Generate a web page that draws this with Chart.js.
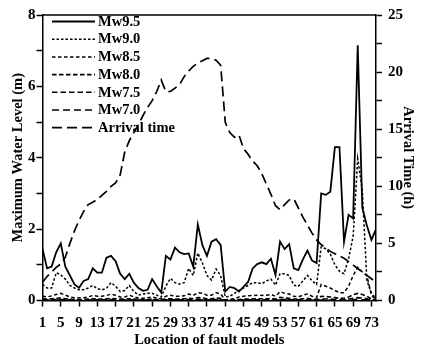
<!DOCTYPE html>
<html><head><meta charset="utf-8">
<script src="https://cdn.jsdelivr.net/npm/chart.js@4/dist/chart.umd.min.js"></script>
<style>html,body{margin:0;padding:0;background:#fff}canvas{display:block}</style>
</head><body>
<canvas id="c" width="422" height="354"></canvas>
<script>
const locations = [1,2,3,4,5,6,7,8,9,10,11,12,13,14,15,16,17,18,19,20,21,22,23,24,25,26,27,28,29,30,31,32,33,34,35,36,37,38,39,40,41,42,43,44,45,46,47,48,49,50,51,52,53,54,55,56,57,58,59,60,61,62,63,64,65,66,67,68,69,70,71,72,73,74];
const xTickLabels = [1,5,9,13,17,21,25,29,33,37,41,45,49,53,57,61,65,69,73];

const mw95 = [1.45,0.9,0.95,1.35,1.6,0.95,0.7,0.45,0.36,0.55,
  0.6,0.9,0.78,0.78,1.2,1.25,1.1,0.75,0.6,0.75,
  0.5,0.35,0.27,0.3,0.6,0.4,0.22,1.25,1.15,1.48,
  1.35,1.3,1.32,0.95,2.13,1.55,1.25,1.65,1.72,1.55,
  0.25,0.38,0.35,0.25,0.38,0.52,0.9,1.02,1.07,1.02,
  1.17,0.72,1.65,1.44,1.58,0.9,0.85,1.15,1.4,1.12,
  1.05,3.0,2.96,3.05,4.3,4.3,1.65,2.4,2.3,7.15,
  2.6,2.1,1.7,2.0];
const mw90 = [0.45,0.35,0.35,0.78,0.72,0.6,0.42,0.35,0.3,0.3,
  0.35,0.42,0.33,0.3,0.34,0.5,0.4,0.25,0.28,0.42,
  0.25,0.15,0.18,0.2,0.2,0.15,0.1,0.4,0.62,0.5,
  0.46,0.5,0.9,0.7,1.33,1.05,0.7,0.57,0.88,0.7,
  0.1,0.12,0.2,0.28,0.35,0.42,0.5,0.5,0.47,0.55,
  0.6,0.43,0.75,0.75,0.7,0.43,0.4,0.55,0.7,0.55,
  0.45,1.5,1.45,1.3,1.0,0.82,0.75,1.17,1.8,3.97,
  3.1,0.57,0.2,0.06];
const mw85 = [0.12,0.1,0.13,0.17,0.2,0.15,0.1,0.08,0.07,0.08,
  0.1,0.14,0.12,0.12,0.14,0.18,0.15,0.1,0.1,0.15,
  0.1,0.07,0.06,0.08,0.1,0.07,0.04,0.12,0.15,0.12,
  0.12,0.13,0.18,0.14,0.22,0.2,0.15,0.15,0.22,0.18,
  0.02,0.03,0.05,0.1,0.12,0.13,0.14,0.15,0.14,0.15,
  0.17,0.12,0.25,0.2,0.18,0.12,0.1,0.15,0.18,0.12,
  0.08,0.45,0.4,0.35,0.28,0.22,0.22,0.4,0.7,0.93,
  0.8,0.7,0.15,0.02];
const mw80 = [0.05,0.04,0.05,0.06,0.07,0.05,0.04,0.03,0.03,0.03,
  0.04,0.05,0.04,0.04,0.05,0.06,0.05,0.04,0.04,0.05,
  0.04,0.03,0.02,0.03,0.04,0.03,0.02,0.04,0.05,0.04,
  0.04,0.05,0.06,0.05,0.08,0.07,0.05,0.05,0.07,0.06,
  0.01,0.01,0.02,0.03,0.04,0.04,0.05,0.05,0.05,0.05,
  0.06,0.04,0.09,0.07,0.06,0.04,0.04,0.05,0.06,0.04,
  0.03,0.12,0.11,0.1,0.08,0.06,0.06,0.1,0.16,0.2,
  0.17,0.12,0.04,0.01];
const mw75 = [0.02,0.02,0.02,0.03,0.03,0.02,0.02,0.01,0.01,0.01,
  0.02,0.02,0.02,0.02,0.02,0.03,0.02,0.02,0.02,0.02,
  0.02,0.01,0.01,0.01,0.02,0.01,0.01,0.02,0.02,0.02,
  0.02,0.02,0.03,0.02,0.03,0.03,0.02,0.02,0.03,0.03,
  0.0,0.0,0.01,0.01,0.02,0.02,0.02,0.02,0.02,0.02,
  0.02,0.02,0.03,0.03,0.02,0.02,0.02,0.02,0.02,0.02,
  0.01,0.04,0.04,0.04,0.03,0.02,0.02,0.04,0.06,0.08,
  0.07,0.05,0.02,0.0];
const mw70 = [0.01,0.01,0.01,0.01,0.01,0.01,0.01,0.0,0.0,0.0,
  0.01,0.01,0.01,0.01,0.01,0.01,0.01,0.01,0.01,0.01,
  0.01,0.0,0.0,0.0,0.01,0.0,0.0,0.01,0.01,0.01,
  0.01,0.01,0.01,0.01,0.01,0.01,0.01,0.01,0.01,0.01,
  0.0,0.0,0.0,0.0,0.01,0.01,0.01,0.01,0.01,0.01,
  0.01,0.01,0.01,0.01,0.01,0.01,0.01,0.01,0.01,0.01,
  0.0,0.01,0.01,0.01,0.01,0.01,0.01,0.01,0.02,0.03,
  0.02,0.02,0.01,0.0];
const arrival = [1.6,2.1,2.5,2.9,3.2,3.8,5.0,6.1,7.0,7.8,
  8.4,8.6,8.85,9.2,9.55,10.0,10.3,11.0,13.0,14.0,
  14.7,15.4,16.2,16.9,17.5,18.3,19.3,18.3,18.3,18.6,
  18.9,19.6,20.1,20.5,20.8,21.0,21.2,21.2,21.05,20.6,
  15.6,14.7,14.3,14.5,13.3,12.8,12.2,11.8,11.1,10.2,
  9.3,8.3,7.95,8.4,8.8,8.9,8.1,7.3,6.6,5.9,
  5.3,4.9,4.6,4.3,4.1,3.9,3.7,3.4,3.1,2.8,
  2.5,2.2,1.9,1.6];

const FONT = "'Liberation Serif','Times New Roman',serif";
const BLACK = '#000';

const frame = {
  id: 'frame',
  afterDatasetsDraw(chart) {
    const {ctx, chartArea: a} = chart;
    ctx.save();
    ctx.strokeStyle = BLACK; ctx.lineWidth = 1.5;
    ctx.beginPath(); ctx.moveTo(a.left, a.top); ctx.lineTo(a.right, a.top); ctx.stroke();
    ctx.restore();
  }
};
const legendBox = {
  id: 'legendBox',
  afterDraw(chart) {
    const {ctx, chartArea: a} = chart;
    ctx.save();
    ctx.font = 'bold 14.5px ' + FONT;
    ctx.textBaseline = 'middle'; ctx.textAlign = 'left'; ctx.fillStyle = BLACK;
    chart.data.datasets.forEach((ds, k) => {
      const y = a.top + 6.5 + k * 17.7;
      const x0 = a.left + 9.5, x1 = a.left + 52.5;
      ctx.setLineDash(ds.borderDash || []);
      ctx.lineWidth = ds.borderWidth; ctx.strokeStyle = BLACK;
      ctx.beginPath(); ctx.moveTo(x0, y); ctx.lineTo(x1, y); ctx.stroke();
      ctx.setLineDash([]);
      ctx.fillText(ds.label, x1 + 3, y + 0.5);
    });
    ctx.restore();
  }
};

function ds(label, data, dash, axis, w) {
  return {label, data, borderColor: BLACK, backgroundColor: BLACK, borderWidth: w,
    borderDash: dash, yAxisID: axis, pointRadius: 0, fill: false, tension: 0};
}

const tickFont = {family: FONT, size: 15, weight: 'bold'};
const titleFont = {family: FONT, size: 14.5, weight: 'bold'};
const gridCfg = {drawOnChartArea: false, drawTicks: true, tickLength: 6, tickColor: BLACK, tickWidth: 1.5, color: BLACK};
const borderCfg = {display: true, color: BLACK, width: 1.5};

new Chart(document.getElementById('c'), {
  type: 'line',
  data: {
    labels: locations,
    datasets: [
      ds('Mw9.5', mw95, [], 'y', 1.8),
      ds('Mw9.0', mw90, [2.5, 2], 'y', 1.5),
      ds('Mw8.5', mw85, [3.5, 2.5], 'y', 1.5),
      ds('Mw8.0', mw80, [4.5, 2.5], 'y', 1.6),
      ds('Mw7.5', mw75, [5.5, 3], 'y', 1.6),
      ds('Mw7.0', mw70, [7, 4], 'y', 1.7),
      ds('Arrival time', arrival, [10, 5], 'y2', 1.7)
    ]
  },
  options: {
    responsive: false, animation: false,
    layout: {padding: {top: 11, left: 0, right: 0, bottom: 0}},
    plugins: {legend: {display: false}, tooltip: {enabled: false}},
    scales: {
      x: {
        type: 'linear', min: 1, max: 74,
        afterBuildTicks(s) { s.ticks = xTickLabels.map(v => ({value: v})); },
        afterFit(s) { s.height = 53.5; },
        ticks: {font: tickFont, color: BLACK, padding: 8, autoSkip: false, maxRotation: 0},
        grid: gridCfg, border: borderCfg,
        title: {display: true, text: 'Location of fault models', font: titleFont, color: BLACK, padding: {top: 0, bottom: 5.3}}
      },
      y: {
        position: 'left', min: 0, max: 8,
        afterFit(s) { s.width = 42.5; },
        ticks: {stepSize: 1, font: tickFont, color: BLACK, padding: 1, callback: v => (v % 2 === 0 ? v : '')},
        grid: gridCfg, border: borderCfg,
        title: {display: true, text: 'Maximum Water Level (m)', font: titleFont, color: BLACK, padding: {top: 9.3, bottom: 0}}
      },
      y2: {
        position: 'right', min: 0, max: 25,
        afterFit(s) { s.width = 46; },
        ticks: {stepSize: 2.5, font: tickFont, color: BLACK, padding: 6, callback: v => (v % 5 === 0 ? v : '')},
        grid: gridCfg, border: borderCfg,
        title: {display: true, text: 'Arrival Time (h)', font: titleFont, color: BLACK, padding: {top: 5.6, bottom: 0}}
      }
    }
  },
  plugins: [frame, legendBox]
});
</script>
</body></html>
